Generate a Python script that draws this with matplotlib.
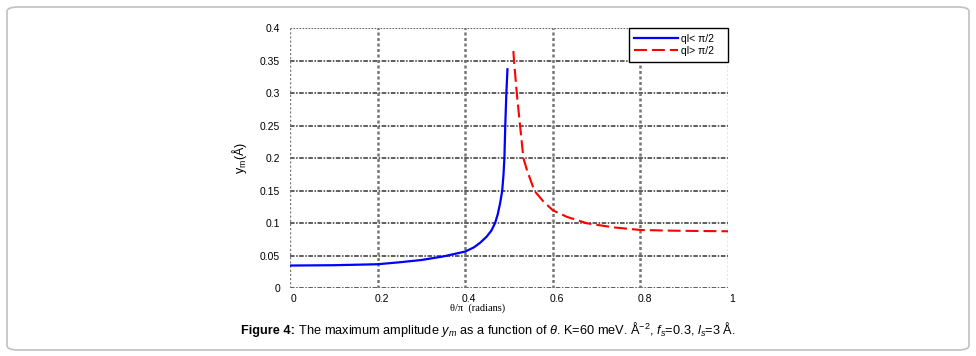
import matplotlib
matplotlib.use('Agg')
import matplotlib.pyplot as plt
import matplotlib.transforms as mtransforms
from matplotlib.patches import FancyBboxPatch

plt.rcParams['font.family'] = ['Liberation Sans', 'DejaVu Sans']
plt.rcParams['mathtext.fontset'] = 'custom'
plt.rcParams['mathtext.rm'] = 'Liberation Sans'
plt.rcParams['mathtext.it'] = 'Liberation Sans:italic'
plt.rcParams['mathtext.bf'] = 'Liberation Sans:bold'

# values
blue_x = [0, 0.1, 0.2, 0.25, 0.3, 0.35, 0.4, 0.42, 0.434, 0.449, 0.46, 0.468,
          0.474, 0.4795, 0.4845, 0.4875, 0.4895, 0.4915, 0.494, 0.4965]
blue_y = [0.035, 0.0355, 0.037, 0.040, 0.0435, 0.049, 0.0565, 0.063, 0.070, 0.0794,
          0.089, 0.1, 0.113, 0.13, 0.15, 0.175, 0.2, 0.25, 0.3, 0.337]
red_x = [0.510, 0.5115, 0.5178, 0.5253, 0.533, 0.541, 0.558, 0.578, 0.6, 0.632,
         0.678, 0.738, 0.8, 0.875, 1.0]
red_y = [0.365, 0.35, 0.3, 0.25, 0.2, 0.182, 0.15, 0.134, 0.12, 0.110,
         0.1, 0.0938, 0.0897, 0.0886, 0.0877]
x_ticks = [0, 0.2, 0.4, 0.6, 0.8, 1]
x_labels = ['0', '0.2', '0.4', '0.6', '0.8', '1']
y_ticks = [0, 0.05, 0.1, 0.15, 0.2, 0.25, 0.3, 0.35, 0.4]
y_labels = ['0', '0.05', '0.1', '0.15', '0.2', '0.25', '0.3', '0.35', '0.4']

fig = plt.figure(figsize=(9.76, 3.56), dpi=100)
ax = fig.add_axes([0.2971, 0.1902, 0.4488, 0.7303])

# outer frame of the figure panel
frame = FancyBboxPatch((7 / 976, 6 / 356), 962 / 976, 343 / 356,
                       boxstyle='round,pad=0,rounding_size=0.012',
                       transform=fig.transFigure, fill=False,
                       edgecolor='#c0c0c0', linewidth=1.2)
fig.patches.append(frame)

# grid drawn by hand: dash-dot horizontals, dotted verticals
for v in y_ticks:
    if v == y_ticks[-1]:
        ax.axhline(v, color='#666666', lw=0.8, ls=(0, (1.5, 1.2)), zorder=1)
    else:
        ax.axhline(v, color='#333333', lw=1.1, ls=(0, (3, 1, 1, 1)), zorder=1)
for v in x_ticks:
    if v in (x_ticks[0], x_ticks[-1]):
        ax.axvline(v, color='#777777', lw=1.0, ls=(0, (1.5, 1.5)), zorder=1)
    else:
        ax.axvline(v, color='#777777', lw=1.8, ls=(0, (1.2, 1.0)), zorder=1)

ax.plot(blue_x, blue_y, color='#0000ff', lw=1.6, label='ql< \u03c0/2   ', zorder=3)
ax.plot(red_x, red_y, color='#ff0000', lw=1.5, ls=(0, (6.2, 2.4)),
        label='ql> \u03c0/2   ', zorder=3)

ax.set_xlim(0, 1)
ax.set_ylim(0, 0.4)
for s in ax.spines.values():
    s.set_visible(False)
ax.set_xticks(x_ticks)
ax.set_xticklabels(x_labels, fontsize=7.5)
ax.set_yticks(y_ticks)
ax.set_yticklabels(y_labels, fontsize=7.5)
ax.tick_params(length=0)
ax.tick_params(axis='y', pad=7)
ax.tick_params(axis='x', pad=4)
shift = mtransforms.ScaledTranslation(4 / 100, 0, fig.dpi_scale_trans)
for lab in ax.get_xticklabels():
    lab.set_transform(lab.get_transform() + shift)

ax.set_ylabel('y$_\\mathrm{m}$(\u00c5)', fontsize=9, labelpad=8)
fig.text(478 / 976, 1 - 308 / 356, '\u03b8/\u03c0  (radians)', fontsize=7.5,
         family=['Liberation Serif', 'DejaVu Serif'], ha='center', va='center')

leg = ax.legend(loc='upper right', bbox_to_anchor=(1.0, 1.0), borderaxespad=0,
                fontsize=7.5, frameon=True, fancybox=False, edgecolor='black',
                handlelength=4.2, handletextpad=0.25, labelspacing=0.2,
                borderpad=0.55, framealpha=1)
leg.get_frame().set_linewidth(1.0)

# caption: bold lead-in followed by the rest of the sentence, centred as a whole
cap_y = 1 - 334 / 356
cap_size = 9.2
cap_bold = fig.text(0, cap_y, 'Figure 4:', fontsize=cap_size,
                    fontweight='bold', ha='left', va='baseline')
cap_rest = fig.text(0, cap_y, ' The maximum amplitude $y_m$ as a function of $\\theta$. '
                    'K=60 meV. \u00c5$^{-2}$, $f_s$=0.3, $l_s$=3 \u00c5.',
                    fontsize=cap_size, ha='left', va='baseline')
fig.canvas.draw()
r = fig.canvas.get_renderer()
w_bold = cap_bold.get_window_extent(r).width
w_rest = cap_rest.get_window_extent(r).width
x0 = 488 - (w_bold + w_rest) / 2
cap_bold.set_x(x0 / 976)
cap_rest.set_x((x0 + w_bold) / 976)

fig.savefig('out.png', dpi=100)
